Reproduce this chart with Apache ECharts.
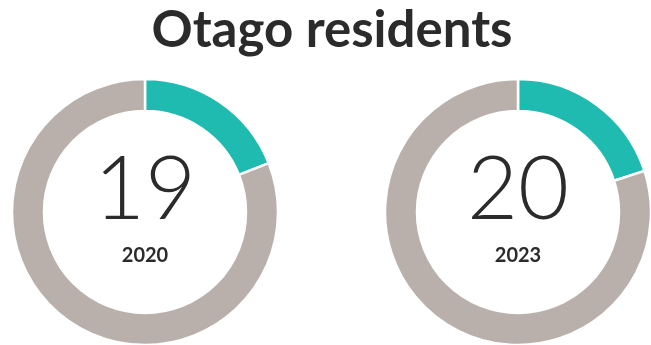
<!DOCTYPE html>
<html>
<head>
<meta charset="utf-8">
<script src="https://cdn.jsdelivr.net/npm/echarts@6/dist/echarts.min.js"></script>
<style>
  html, body { margin: 0; padding: 0; background: #fff; }
  #chart { width: 651px; height: 345px; }
</style>
</head>
<body>
<div id="chart"></div>
<script>
// Share of Otago residents (per cent) in each survey year
const years = ['2020', '2023'];
const shares = [19, 20];

const centers = [[145, 212], [518, 212]];
const teal = '#20BBB0';
const grey = '#B9B0AC';
const ink = '#2B2B2B';

const series = years.map((year, i) => ({
  type: 'pie',
  radius: [101, 133],
  center: centers[i],
  startAngle: 90,
  clockwise: true,
  silent: true,
  animation: false,
  itemStyle: { borderColor: '#ffffff', borderWidth: 2.5 },
  labelLine: { show: false },
  data: [
    {
      value: shares[i],
      name: year,
      itemStyle: { color: teal },
      label: {
        show: true,
        position: 'center',
        formatter: '{v|' + shares[i] + '}\n{y|' + year + '}',
        rich: {
          v: { fontFamily: 'Lato', fontWeight: 300, fontSize: 88, lineHeight: 88, color: ink },
          y: { fontFamily: 'Lato', fontWeight: 'bold', fontSize: 20, lineHeight: 42, color: ink }
        }
      }
    },
    { value: 100 - shares[i], name: 'other', itemStyle: { color: grey }, label: { show: false } }
  ]
}));

const chart = echarts.init(document.getElementById('chart'), null, { renderer: 'canvas' });
chart.setOption({
  backgroundColor: '#ffffff',
  title: {
    text: 'Otago residents',
    left: 327,
    textAlign: 'center',
    top: 0,
    textStyle: { fontFamily: 'Lato', fontWeight: 'bold', fontSize: 51, color: ink }
  },
  series: series
});
</script>
</body>
</html>
